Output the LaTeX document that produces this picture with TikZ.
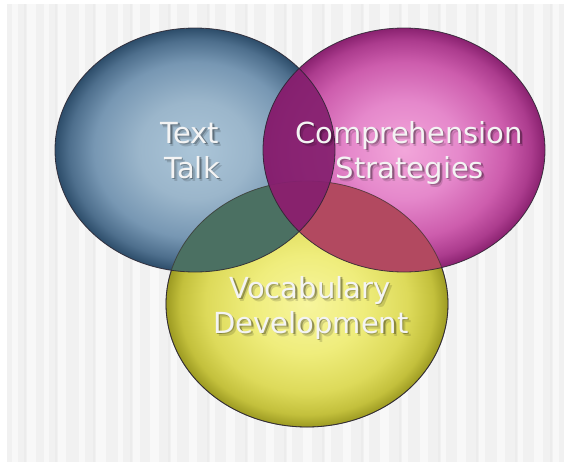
\documentclass[tikz,border=0pt]{standalone}
\usepackage{fontspec}
\setmainfont{DejaVu Sans}
\usetikzlibrary{calc}

% palette
\definecolor{bgpanel}{HTML}{F1F1F1}
\definecolor{bgstripe}{HTML}{F8F8F8}
\definecolor{bgdark}{HTML}{ECECEC}
\definecolor{bluec}{HTML}{ABC5D8}
\definecolor{bluem}{HTML}{9BB6CB}
\definecolor{bluen}{HTML}{7797B3}
\definecolor{bluer}{HTML}{4E6F8D}
\definecolor{bluee}{HTML}{2D4D6A}
\definecolor{pinkc}{HTML}{F2A6DA}
\definecolor{pinkm}{HTML}{E588CB}
\definecolor{pinkn}{HTML}{CD5DAD}
\definecolor{pinkr}{HTML}{AC3C8E}
\definecolor{pinke}{HTML}{8A2270}
\definecolor{yelc}{HTML}{F7F59E}
\definecolor{yelm}{HTML}{EFED7C}
\definecolor{yeln}{HTML}{DDDA5A}
\definecolor{yelr}{HTML}{C3C03C}
\definecolor{yele}{HTML}{9C9A22}
\definecolor{mixby}{HTML}{4B7062}
\definecolor{mixpy}{HTML}{B24960}
\definecolor{mixbp}{HTML}{85206F}
\definecolor{rimc}{HTML}{2A2430}
\definecolor{labelc}{HTML}{F4F4F4}

% bevelled fills of the three sets
\pgfdeclareradialshading{bluefill}{\pgfpoint{0bp}{0bp}}{%
  color(0bp)=(bluec); color(10bp)=(bluem); color(18bp)=(bluen);
  color(22.5bp)=(bluer); color(25bp)=(bluee); color(50bp)=(bluee)}
\pgfdeclareradialshading{pinkfill}{\pgfpoint{0bp}{0bp}}{%
  color(0bp)=(pinkc); color(10bp)=(pinkm); color(18bp)=(pinkn);
  color(22.5bp)=(pinkr); color(25bp)=(pinke); color(50bp)=(pinke)}
\pgfdeclareradialshading{yelfill}{\pgfpoint{0bp}{0bp}}{%
  color(0bp)=(yelc); color(10bp)=(yelm); color(18bp)=(yeln);
  color(22.5bp)=(yelr); color(25bp)=(yele); color(50bp)=(yele)}

% set boundaries
\def\blueset{(195,150) ellipse [x radius=140, y radius=122]}
\def\pinkset{(404,150) ellipse [x radius=141, y radius=122]}
\def\yelset{(307,304) ellipse [x radius=141, y radius=123]}

% word with a soft drop shadow behind it
\newcommand\shadowword[1]{%
  \makebox[0pt][l]{\kern3pt\raisebox{-3.2pt}{%
    \begin{pgfscope}\pgfsetfillopacity{0.14}\color{black}#1\end{pgfscope}}}%
  \makebox[0pt][l]{\kern1.6pt\raisebox{-1.8pt}{%
    \begin{pgfscope}\pgfsetfillopacity{0.30}\color{black}#1\end{pgfscope}}}%
  #1}

\begin{document}
\begin{tikzpicture}[x=1pt, y=-1pt,
  lbl/.style={font=\fontsize{29}{35}\selectfont, text=labelc,
              anchor=base, inner sep=0pt},
  rim/.style={draw=rimc, line width=0.8pt, draw opacity=.85}]

\useasboundingbox (0,0) rectangle (571,463);

% striped backdrop
\fill[bgpanel] (7,4) rectangle (564,462);
\foreach \xa/\w in {12/6, 27/9, 44/5, 58/8, 79/6, 96/10, 118/5, 133/7,
                    150/9, 171/6, 189/8, 210/5, 226/9, 248/6, 266/8,
                    287/5, 303/9, 325/6, 343/8, 364/5, 380/9, 402/6,
                    420/8, 441/5, 457/9, 479/6, 497/8, 518/5, 534/9, 553/6}
  \fill[bgstripe] (\xa,4) rectangle (\xa+\w,462);
\foreach \xa in {24, 55, 93, 130, 168, 207, 245, 284, 322, 361,
                 399, 438, 476, 515, 550}
  \fill[bgdark] (\xa,4) rectangle (\xa+2,462);

% the three sets
\path[shading=bluefill] \blueset;
\path[shading=pinkfill] \pinkset;
\path[shading=yelfill] \yelset;

% pairwise overlaps
\begin{scope}
  \clip \blueset;
  \fill[mixby] \yelset;
\end{scope}
\begin{scope}
  \clip \pinkset;
  \fill[mixpy] \yelset;
\end{scope}
\draw[rim, draw opacity=.6] \yelset;
\begin{scope}
  \clip \blueset;
  \fill[mixbp, opacity=.93] \pinkset;
\end{scope}

% outlines
\draw[rim] \blueset;
\draw[rim] \pinkset;
\begin{scope}[even odd rule]
  \clip (0,0) rectangle (571,463) \pinkset;
  \clip (0,0) rectangle (571,463) \blueset;
  \draw[rim] \yelset;
\end{scope}

% labels
\node[lbl] (text)  at (190,143) {\shadowword{Text}};
\node[lbl] (talk)  at (192,178) {\shadowword{Talk}};
\node[lbl] (compr) at (409,143) {\shadowword{Comprehension}};
\node[lbl] (strat) at (410,178) {\shadowword{Strategies}};
\node[lbl] (vocab) at (310,298) {\shadowword{Vocabulary}};
\node[lbl] (devel) at (311,333) {\shadowword{Development}};

\end{tikzpicture}
\end{document}
